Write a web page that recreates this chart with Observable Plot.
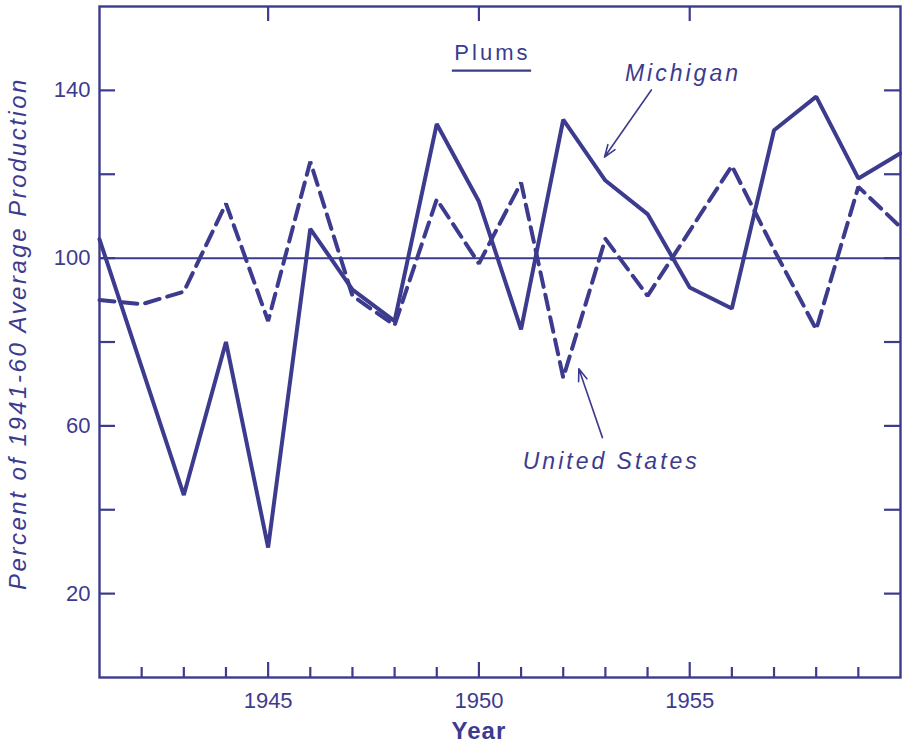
<!DOCTYPE html>
<html><head><meta charset="utf-8">
<script src="https://cdn.jsdelivr.net/npm/d3@7"></script>
<script src="https://cdn.jsdelivr.net/npm/@observablehq/plot@0.6"></script>
<style>
body{margin:0;background:#fff}
svg text{font-family:"Liberation Sans",Arial,sans-serif}
</style></head><body><div id="chart"></div><script>
const years = [1941,1942,1943,1944,1945,1946,1947,1948,1949,1950,1951,1952,1953,1954,1955,1956,1957,1958,1959,1960];
const michigan = [104.5,74,43.5,80,31,107,92.5,85,132,113.5,83,133,118.5,110.5,93,88,130.5,138.5,119,125];
const unitedStates = [90,89,92,113,85,123,91,84,114,98.7,118,71.5,104.6,91,106.5,122,102,83,117,107.4];
const yTickValues = [20,40,60,80,100,120,140];
const yTickLabels = [20,60,100,140];
const xMajorTicks = [1945,1950,1955];
const xTickLabels = ["1945","1950","1955"];
const seriesLabels = [
  {text:"Michigan", year:1954.84, value:144},
  {text:"United States", year:1953.14, value:51.5}
];
const arrows = [
  {x1:1954.09, y1:140.1, x2:1952.98, y2:124.1},
  {x1:1952.93, y1:57.2, x2:1952.37, y2:73.6}
];
const title = {text:"Plums", year:1950.32, value:149, u1:1949.37, u2:1951.25, uv:144.7};
const xLabel = "Year";
const yLabel = "Percent of 1941-60 Average Production";

const C = "#3c3b8e";
const W = 902, H = 744, mL = 99, mR = 2, mT = 6, mB = 67;
const xDom = [1941,1960], yDom = [0,160];
const pxY = (yDom[1]-yDom[0])/(H-mT-mB);
const pxX = (xDom[1]-xDom[0])/(W-mL-mR);

const mi = years.map((y,i)=>({year:y, value:michigan[i]}));
const us = years.map((y,i)=>({year:y, value:unitedStates[i]}));
const minorYears = years.filter(y=>y>xDom[0] && y<xDom[1] && !xMajorTicks.includes(y));

const chart = Plot.plot({
  width: W, height: H,
  marginLeft: mL, marginRight: mR, marginTop: mT, marginBottom: mB,
  x: {domain: xDom, axis: null},
  y: {domain: yDom, axis: null},
  style: {color: C, background: "white", fontFamily: "Liberation Sans, Arial, sans-serif"},
  marks: [
    Plot.ruleY([100], {stroke: C, strokeWidth: 2}),
    // ticks
    Plot.ruleX(minorYears, {x: d=>d, y1: yDom[0], y2: yDom[0]+10*pxY, stroke: C, strokeWidth: 2.2}),
    Plot.ruleX(xMajorTicks, {x: d=>d, y1: yDom[0], y2: yDom[0]+15*pxY, stroke: C, strokeWidth: 2.2}),
    Plot.ruleX(xMajorTicks, {x: d=>d, y1: yDom[1]-15*pxY, y2: yDom[1], stroke: C, strokeWidth: 2.2}),
    Plot.ruleY(yTickValues, {y: d=>d, x1: xDom[0], x2: xDom[0]+16*pxX, stroke: C, strokeWidth: 2.2}),
    Plot.ruleY(yTickValues, {y: d=>d, x1: xDom[1]-16*pxX, x2: xDom[1], stroke: C, strokeWidth: 2.2}),
    Plot.frame({stroke: C, strokeWidth: 2.4}),
    // series
    Plot.line(mi, {x: "year", y: "value", stroke: C, strokeWidth: 4, strokeLinejoin: "miter"}),
    Plot.line(us, {x: "year", y: "value", stroke: C, strokeWidth: 4, strokeLinejoin: "miter", strokeDasharray: "15,8"}),
    // tick labels
    Plot.text(yTickLabels, {frameAnchor: "left", y: d=>d, text: d=>String(d), textAnchor: "end", dx: -9, fontSize: 22, fill: C}),
    Plot.text(xMajorTicks, {frameAnchor: "bottom", x: d=>d, text: (d,i)=>xTickLabels[i], lineAnchor: "middle", dy: 23, fontSize: 22, fill: C}),
    Plot.text([xLabel], {frameAnchor: "bottom", x: [1950], text: d=>d, lineAnchor: "middle", dy: 54, fontSize: 24, fontWeight: "bold", fill: C}),
    Plot.text([yLabel], {frameAnchor: "left", text: d=>d, rotate: -90, lineAnchor: "bottom", textAnchor: "middle", dx: -74, dy: -8.5, fontSize: 24, fontStyle: "italic", fill: C}),
    // annotations
    Plot.text([title], {x: "year", y: "value", text: "text", fontSize: 22, fill: C, lineAnchor: "middle"}),
    Plot.ruleY([title], {y: "uv", x1: "u1", x2: "u2", stroke: C, strokeWidth: 2.4}),
    Plot.text(seriesLabels, {x: "year", y: "value", text: "text", fontSize: 23, fontStyle: "italic", fill: C, lineAnchor: "middle"}),
    Plot.arrow(arrows, {x1: "x1", y1: "y1", x2: "x2", y2: "y2", stroke: C, strokeWidth: 1.6, headLength: 12, headAngle: 40})
  ]
});
// letter spacing for the hand-lettered labels
chart.querySelectorAll("text").forEach(t => {
  const s = t.textContent;
  if (s === "Plums" || s === "Michigan" || s === "United States") t.setAttribute("letter-spacing", "3");
  if (s === yLabel) t.setAttribute("letter-spacing", "2.5");
  if (s === xLabel) t.setAttribute("letter-spacing", "1");
});
document.getElementById("chart").appendChild(chart);
</script></body></html>
